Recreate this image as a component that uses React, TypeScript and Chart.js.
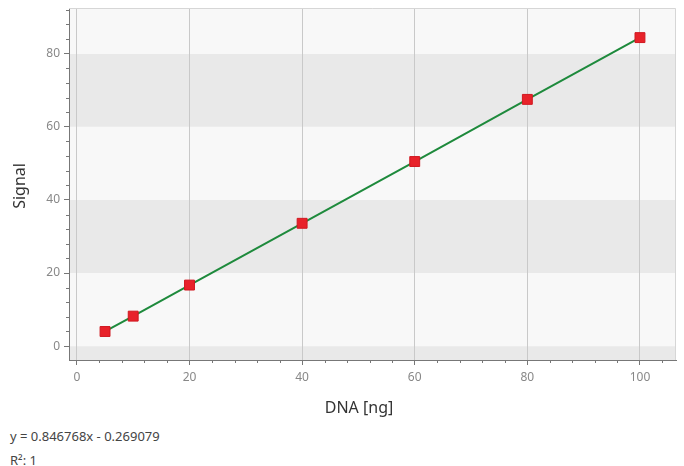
import React, { useEffect, useRef } from "react";
import { Chart, registerables } from "chart.js";

Chart.register(...registerables);

const dnaNg = [5, 10, 20, 40, 60, 80, 100];
const signal = [4.0, 8.2, 16.7, 33.6, 50.5, 67.5, 84.4];
const bandEdges = [-3.8, 0, 20, 40, 60, 80, 92.5];
const equationText = "y = 0.846768x - 0.269079";
const r2Text = "R²: 1";
const xTitle = "DNA [ng]";
const yTitle = "Signal";

const W = 684;
const H = 420;

const decorPlugin = {
  id: "decor",
  beforeDraw(chart: any) {
    const { ctx, chartArea, scales } = chart;
    const y = scales.y;
    ctx.save();
    for (let i = 0; i < bandEdges.length - 1; i++) {
      const top = y.getPixelForValue(bandEdges[i + 1]);
      const bot = y.getPixelForValue(bandEdges[i]);
      ctx.fillStyle = i % 2 === 0 ? "#e9e9e9" : "#f8f8f8";
      ctx.fillRect(chartArea.left, top, chartArea.right - chartArea.left, bot - top);
    }
    ctx.restore();
  },
  afterDraw(chart: any) {
    const { ctx, chartArea, scales } = chart;
    const x = scales.x;
    const y = scales.y;
    ctx.save();
    ctx.strokeStyle = "#d6d6d6";
    ctx.lineWidth = 1;
    ctx.beginPath();
    ctx.moveTo(chartArea.left, chartArea.top + 0.5);
    ctx.lineTo(chartArea.right - 0.5, chartArea.top + 0.5);
    ctx.lineTo(chartArea.right - 0.5, chartArea.bottom);
    ctx.stroke();
    ctx.strokeStyle = "#777";
    ctx.beginPath();
    for (let v = 0; v <= x.max; v += 4) {
      if (v % 20 === 0) continue;
      const px = Math.round(x.getPixelForValue(v)) + 0.5;
      ctx.moveTo(px, chartArea.bottom);
      ctx.lineTo(px, chartArea.bottom + 3);
    }
    for (let v = 0; v <= y.max; v += 4) {
      if (v % 20 === 0) continue;
      const py = Math.round(y.getPixelForValue(v)) + 0.5;
      ctx.moveTo(chartArea.left, py);
      ctx.lineTo(chartArea.left - 3, py);
    }
    ctx.stroke();
    ctx.fillStyle = "#333";
    ctx.font = "16px 'Noto Sans', 'DejaVu Sans', sans-serif";
    ctx.textAlign = "center";
    ctx.textBaseline = "middle";
    ctx.fillText(xTitle, 359, 408);
    ctx.translate(20, 186);
    ctx.rotate(-Math.PI / 2);
    ctx.fillText(yTitle, 0, 0);
    ctx.restore();
  },
};

export default function App() {
  const ref = useRef<HTMLCanvasElement>(null);
  useEffect(() => {
    if (!ref.current) return;
    const tickFont = { family: "'Noto Sans', 'DejaVu Sans', sans-serif", size: 12 };
    const chart = new Chart(ref.current, {
      type: "line",
      data: {
        datasets: [
          {
            data: dnaNg.map((v, i) => ({ x: v, y: signal[i] })),
            borderColor: "#1e8a3c",
            borderWidth: 2,
            pointStyle: "rect",
            pointRadius: 7,
            pointBackgroundColor: "#e8222a",
            pointBorderColor: "#d01820",
            pointBorderWidth: 1,
            fill: false,
          },
        ],
      },
      options: {
        responsive: false,
        animation: false,
        layout: { padding: { top: 7, right: 6, left: 0, bottom: 0 } },
        plugins: { legend: { display: false }, tooltip: { enabled: false } },
        scales: {
          x: {
            type: "linear",
            min: -1.4,
            max: 106.4,
            afterFit: (s: any) => {
              s.height = H - 360;
              s.paddingLeft = 0;
              s.paddingRight = 0;
            },
            ticks: {
              stepSize: 20,
              includeBounds: false,
              color: "#888",
              font: tickFont,
              padding: 5,
            },
            grid: {
              color: "#c9c9c9",
              tickColor: "#777",
              tickLength: 5,
              lineWidth: 1,
            },
            border: { color: "#777", width: 1 },
          },
          y: {
            type: "linear",
            min: -3.8,
            max: 92.5,
            afterFit: (s: any) => {
              s.width = 69;
              s.paddingTop = 0;
              s.paddingBottom = 0;
            },
            ticks: {
              stepSize: 20,
              includeBounds: false,
              color: "#888",
              font: tickFont,
              padding: 4,
            },
            grid: {
              drawOnChartArea: false,
              drawTicks: true,
              tickColor: "#777",
              tickLength: 5,
            },
            border: { color: "#777", width: 1 },
          },
        },
      },
      plugins: [decorPlugin],
    } as any);
    return () => chart.destroy();
  }, []);

  const textStyle: React.CSSProperties = {
    position: "absolute",
    left: 10,
    fontFamily: "'Noto Sans', 'DejaVu Sans', sans-serif",
    fontSize: 13,
    color: "#444",
    whiteSpace: "nowrap",
    lineHeight: "16px",
  };

  return (
    <div style={{ position: "absolute", left: 0, top: 0, width: W, height: 466, background: "#fff" }}>
      <canvas ref={ref} width={W} height={H} style={{ display: "block", width: W, height: H }} />
      <div style={{ ...textStyle, top: 428 }}>{equationText}</div>
      <div style={{ ...textStyle, top: 452 }}>{r2Text}</div>
    </div>
  );
}
